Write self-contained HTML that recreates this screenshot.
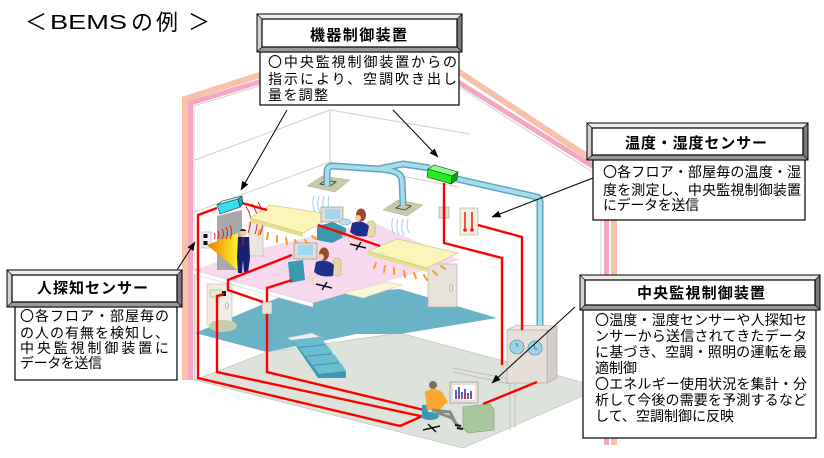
<!DOCTYPE html>
<html><head><meta charset="utf-8"><style>
html,body{margin:0;padding:0;background:#fff;}
svg{display:block;}
text{font-family:"Liberation Sans","Noto Sans CJK JP",sans-serif;fill:#000;}
.b{font-size:14px;}
.h{font-size:15px;font-weight:bold;}
</style></head><body>
<svg width="824" height="458" viewBox="0 0 824 458" xmlns="http://www.w3.org/2000/svg">
<defs>
<marker id="ah" markerWidth="9" markerHeight="7" refX="8.5" refY="3.5" orient="auto" markerUnits="userSpaceOnUse"><path d="M0,0 L9,3.5 L0,7 z" fill="#000"/></marker>
<linearGradient id="beam" x1="0" y1="0" x2="1" y2="0"><stop offset="0" stop-color="#f07800"/><stop offset="1" stop-color="#ffff30"/></linearGradient>
</defs>
<rect width="824" height="458" fill="#fff"/>

<!-- title -->
<text x="25" y="30" style="font-size:22px">＜</text>
<text transform="translate(50,29) scale(1.36,1)" x="0" y="0" style="font-size:20px">BEMS</text>
<text x="131" y="30" style="font-size:22px">の</text>
<text x="156" y="30" style="font-size:22px">例</text>
<text x="188" y="30" style="font-size:22px">＞</text>

<!-- back wall lines -->
<g stroke="#cfcfcf" stroke-width="1" fill="none">
<path d="M195,160 L330,110 L330,162 M330,110 L470,134 M195,212 L330,162 L458,187 M601,176 L601,300"/>
<path d="M195,268 L195,380"/>
</g>

<!-- roof / walls stripes -->
<polyline points="185,380 185,99 397,31 614,174 614,445" fill="none" stroke="#f8c2aa" stroke-width="6" stroke-linejoin="miter"/>
<polyline points="190.5,380 190.5,103 392.6,41 606.5,175 606.5,445" fill="none" stroke="#f3a7c3" stroke-width="5" stroke-linejoin="miter"/>
<polyline points="194,380 194,106 393,45 602,178" fill="none" stroke="#c8c8c8" stroke-width="0.8"/>

<!-- floors -->
<polygon points="195,380 267,352 400,333 585,383 585,395 463,448" fill="#dde3da" stroke="#c4c9c2" stroke-width="0.8"/>
<polygon points="195,333 280,297 400,289 497,318 400,334 357,334 267,352" fill="#6ab3c6"/>
<polygon points="193,270 255,250 372,222 460,260 313,303" fill="#f9d9ef"/>
<polygon points="193,270 313,303 313,307 193,274" fill="#fff" stroke="#cfcfcf" stroke-width="0.6"/>
<polygon points="343,293 387,282 402,285 363,298" fill="#fbf7d8" stroke="#d0d0b0" stroke-width="0.6"/>

<!-- partition lines bottom -->
<path d="M453,368 L515,380 L515,428 M453,372 L510,384 L510,430" stroke="#b8b8b8" stroke-width="0.8" fill="none"/>

<!-- stairs -->
<polygon points="287,338 312,333 322,338 297,343" fill="#eef2ee" stroke="#bbb" stroke-width="0.6"/>
<polygon points="292,340 320,337 346,372 346,378 318,378" fill="#3f98b2"/>
<g fill="#6cbcd0">
<polygon points="292,340 320,337 326,344 298,347"/>
<polygon points="299,348 327,345 333,353 305,356"/>
<polygon points="306,357 334,354 340,362 312,365"/>
<polygon points="313,366 341,363 346,371 319,374"/>
</g>

<!-- left room (2nd floor) -->
<polygon points="217,216 242,210 242,270 217,270" fill="#a9a9a9"/>
<rect x="249" y="222" width="14" height="34" fill="#ede6de" stroke="#b8b0a8" stroke-width="0.6"/>
<rect x="202" y="232" width="9" height="16" fill="#f4f4f4" stroke="#999" stroke-width="0.5"/>
<rect x="203.5" y="234" width="4" height="4" fill="#111"/><rect x="203.5" y="241" width="4" height="4" fill="#111"/>
<polygon points="207,245 238,233 240,272" fill="url(#beam)"/>
<g fill="none" stroke="#e02020" stroke-width="1">
<path d="M214,233 q2,3 0,6 M218,231 q2,4 0,8 M222,229 q3,5 0,10 M226,227 q3,6 0,12 M230,225 q3,7 0,14"/>
<path d="M246,207 q8,10 2,26 M252,204 q9,12 3,30 M258,202 q9,14 2,33"/>
</g>
<circle cx="243" cy="233" r="3.5" fill="#f0c8a0"/><path d="M239.5,231 q3.5,-4 7,0" fill="#222"/>
<polygon points="238,237 249,237 250,258 248,273 244,273 243,260 242,273 238,273 237,258" fill="#1a2070"/>
<path d="M243,237 L243,246" stroke="#c02020" stroke-width="1"/>

<!-- first floor left door & camera -->
<rect x="207" y="284" width="25" height="41" fill="#f0ece6" stroke="#c0b8b0" stroke-width="0.6"/>
<ellipse cx="227" cy="306" rx="1.5" ry="3" fill="none" stroke="#999" stroke-width="0.6"/>
<ellipse cx="223" cy="326" rx="14" ry="6" fill="#c8cca8"/>
<rect x="210" y="290" width="12" height="7" fill="#e4f0c8" stroke="#999" stroke-width="0.5"/>
<rect x="222" y="291" width="4" height="5" fill="#111"/>

<!-- door under light 2 -->
<rect x="428" y="264" width="29" height="43" fill="#e8e2dc" stroke="#b0a8a0" stroke-width="0.6"/>
<ellipse cx="451" cy="288" rx="1.5" ry="3.5" fill="none" stroke="#999" stroke-width="0.6"/>

<!-- diffusers -->
<polygon points="307,186 322,176 350,180 335,192" fill="#c6cba9" stroke="#a8ad90" stroke-width="0.5"/>
<polygon points="320,184 326,180 336,182 330,186" fill="none" stroke="#333" stroke-width="0.8"/>
<polygon points="383,210 398,200 423,205 407,216" fill="#c6cba9" stroke="#a8ad90" stroke-width="0.5"/>
<polygon points="396,208 402,204 411,206 405,210" fill="none" stroke="#333" stroke-width="0.8"/>
<g fill="none" stroke="#9fd0e8" stroke-width="1">
<path d="M314,196 q-3,8 1,16 M319,196 q-3,8 1,17 M324,196 q-3,8 1,17 M329,196 q-2,8 1,15"/>
<path d="M393,218 q-3,8 1,16 M398,219 q-3,8 1,16 M403,219 q-3,8 1,16 M408,219 q-2,8 1,14"/>
</g>

<!-- duct -->
<g fill="none" stroke-linejoin="round" stroke-linecap="butt">
<path d="M327,186 L327,172 Q327,166 333,166 L378,169 M378,169 L403,164 L430,168 M457,179 L537,197 Q540,198 540,203 L540,326 M378,169 Q401,170 402,180 L403,205" stroke="#5aa8c0" stroke-width="7"/>
<path d="M327,186 L327,172 Q327,166 333,166 L378,169 M378,169 L403,164 L430,168 M457,179 L537,197 Q540,198 540,203 L540,326 M378,169 Q401,170 402,180 L403,205" stroke="#a8dcec" stroke-width="4"/>
</g>

<!-- lights -->
<polygon points="250,218 303,233 303,237 250,222" fill="#e6de8c"/>
<polygon points="250,218 270,205 335,215 303,233" fill="#fbf6b8" stroke="#c8c080" stroke-width="0.6"/>
<polygon points="368,251 427,268 427,272 368,255" fill="#e6de8c"/>
<polygon points="368,251 397,239 458,253 427,268" fill="#fbf6b8" stroke="#c8c080" stroke-width="0.6"/>
<g stroke="#f5a020" stroke-width="2" stroke-linecap="round">
<path d="M260,230 l-2,5 M268,233 l-1,6 M277,236 l0,6 M286,238 l1,6 M295,240 l2,5 M305,240 l3,4 M312,236 l4,3"/>
<path d="M376,263 l-2,5 M385,266 l-1,6 M394,268 l0,6 M404,271 l1,6 M414,273 l2,5 M424,275 l3,5 M433,271 l4,4 M441,266 l4,3"/>
</g>

<!-- women / desks -->
<polygon points="317,226 333,222 346,228 346,236 332,243 317,240" fill="#3a9ab2"/>
<rect x="321" y="207" width="22" height="15" fill="#e0dcd0" stroke="#888" stroke-width="0.6"/>
<rect x="325" y="209" width="15" height="10" fill="#9fd7f0"/>
<ellipse cx="345" cy="222" rx="6" ry="3" fill="#bde0ee" stroke="#5a9ab0" stroke-width="0.5"/>
<rect x="367" y="221" width="8" height="16" rx="3" fill="#e8d8a8" stroke="#b0a070" stroke-width="0.5"/>
<ellipse cx="361" cy="215" rx="5" ry="6.5" fill="#9a4a2a"/>
<circle cx="358" cy="218" r="3" fill="#f3d0b0"/>
<path d="M352,223 Q362,219 369,226 L367,236 Q356,238 350,232 Z" fill="#1f2f8e"/>
<path d="M350,233 L343,236 L345,241 M354,235 L348,239 L350,243" stroke="#f3d0b0" stroke-width="1.5" fill="none"/>
<path d="M350,244 L366,248 M356,250 L361,242" stroke="#111" stroke-width="1.5"/>

<polygon points="288,262 303,260 305,280 290,283" fill="#3a9ab2"/>
<rect x="294" y="243" width="23" height="16" fill="#e0dcd0" stroke="#888" stroke-width="0.6"/>
<rect x="298" y="245" width="15" height="10" fill="#9fd7f0"/>
<rect x="333" y="258" width="8" height="18" rx="3" fill="#e8d8a8" stroke="#b0a070" stroke-width="0.5"/>
<ellipse cx="324" cy="254" rx="5" ry="6.5" fill="#9a4a2a"/>
<circle cx="321" cy="257" r="3" fill="#f3d0b0"/>
<path d="M316,262 Q326,258 334,265 L333,276 Q321,278 314,272 Z" fill="#1f2f8e"/>
<path d="M314,273 L308,277 L310,283 M318,275 L312,279 L314,285" stroke="#f3d0b0" stroke-width="1.5" fill="none"/>
<path d="M316,284 L332,288 M322,290 L327,282" stroke="#111" stroke-width="1.5"/>

<!-- small boxes -->
<rect x="262" y="302" width="10" height="12" fill="#e8e2dc" stroke="#999" stroke-width="0.6"/>
<rect x="439" y="207" width="10" height="11" fill="#e8e2dc" stroke="#999" stroke-width="0.6"/>

<!-- thermometer panel -->
<rect x="460" y="208" width="18" height="27" fill="#f6efe0" stroke="#aaa" stroke-width="0.6"/>
<path d="M465,212 L465,229 M472,212 L472,229" stroke="#e02020" stroke-width="1.5"/>
<circle cx="465" cy="230" r="1.8" fill="#e02020"/><circle cx="472" cy="230" r="1.8" fill="#e02020"/>

<!-- cabinet -->
<polygon points="507,330 517,325 557,326 547,331" fill="#ece6e0" stroke="#a8a09a" stroke-width="0.6"/>
<polygon points="547,331 557,326 557,378 547,383" fill="#d4ccc6" stroke="#a8a09a" stroke-width="0.6"/>
<rect x="507" y="330" width="40" height="53" fill="#e6dfd9" stroke="#a8a09a" stroke-width="0.6"/>
<circle cx="517" cy="347" r="7" fill="#9dd5e8" stroke="#5a9ab0" stroke-width="0.8"/>
<circle cx="535" cy="348" r="7" fill="#9dd5e8" stroke="#5a9ab0" stroke-width="0.8"/>
<path d="M516,343 l2,4 M534,344 l1,5 l3,0" stroke="#333" stroke-width="0.6" fill="none"/>

<!-- red network -->
<g fill="none" stroke="#ff0000" stroke-width="2.4" stroke-linejoin="miter">
<path d="M217,208 L198,215 L198,378 L400,426 L427,414"/>
<path d="M242,203 L267,210"/>
<path d="M224,294 L217,296 L217,372 L425,417"/>
<path d="M267,314 L267,372 L428,411"/>
<path d="M292,255 L228,280 L228,290 L263,302"/>
<path d="M292,280 L267,288 L267,302"/>
<path d="M318,225 L380,246"/>
<path d="M444,183 L444,243 L502,258 L502,365"/>
<path d="M478,225 L522,237 L522,330"/>
<path d="M537,382 L483,404"/>
</g>

<!-- AC units -->
<polygon points="217,205 222,201 242,196 238,199" fill="#a8f4fa" stroke="#333" stroke-width="0.6"/>
<polygon points="217,205 238,199 240,207 220,214" fill="#33dff0" stroke="#333" stroke-width="0.6"/>
<polygon points="238,199 242,196 243,204 240,207" fill="#1aa8c0" stroke="#333" stroke-width="0.6"/>
<polygon points="428,169 434,165 458,172 452,176" fill="#80ff80" stroke="#333" stroke-width="0.6"/>
<polygon points="428,169 452,176 451,184 427,177" fill="#22ee22" stroke="#333" stroke-width="0.6"/>
<polygon points="452,176 458,172 457,180 451,184" fill="#10a010" stroke="#333" stroke-width="0.6"/>

<!-- bottom man at console -->
<polygon points="463,407 490,404 494,410 494,430 468,433 463,428" fill="#a8c8a0" stroke="#7a9a72" stroke-width="0.6"/>
<rect x="450" y="382" width="28" height="21" fill="#e8e0d8" stroke="#888" stroke-width="0.6"/>
<rect x="453" y="385" width="22" height="15" fill="#fff"/>
<path d="M456,399 L456,390 M459,399 L459,387 M462,399 L462,392 M465,399 L465,389 M468,399 L468,393 M471,399 L471,391" stroke="#2040c0" stroke-width="1.6"/>
<path d="M459,399 L459,393 M465,399 L465,394 M471,399 L471,395" stroke="#e02020" stroke-width="1.6"/>
<ellipse cx="430" cy="416" rx="9" ry="4" fill="#3a9ab2"/>
<rect x="422" y="405" width="6" height="12" fill="#3a9ab2"/>
<path d="M423,430 L440,426 M428,424 L436,432" stroke="#111" stroke-width="1.5"/>
<circle cx="433" cy="385" r="4" fill="#8a6a50"/>
<path d="M425,392 Q433,386 442,392 L448,402 L444,405 L440,410 L427,410 Z" fill="#f8a830"/>
<path d="M432,410 L450,412 L456,424 M436,412 L452,418 L458,426" stroke="#888" stroke-width="3" fill="none"/>
<path d="M455,425 l6,1 M457,428 l6,1" stroke="#111" stroke-width="2"/>

<!-- ===== callouts ===== -->
<!-- top -->
<rect x="260" y="52" width="199" height="53" fill="#fff" stroke="#000" stroke-width="1.2"/>
<rect x="257" y="14" width="205" height="38" fill="#c0c0c0"/>
<polygon points="257,14 462,14 457,19 262,19" fill="#ececec"/>
<polygon points="257,14 262,19 262,47 257,52" fill="#d2d2d2"/>
<polygon points="462,14 462,52 457,47 457,19" fill="#7a7a7a"/>
<polygon points="257,52 262,47 457,47 462,52" fill="#9a9a9a"/>
<rect x="262" y="19" width="195" height="28" fill="#fff" stroke="#000" stroke-width="1.2"/>
<rect x="257" y="14" width="205" height="38" fill="none" stroke="#000" stroke-width="1"/>
<path d="M257,14 L262,19 M462,14 L457,19 M257,52 L262,47 M462,52 L457,47" stroke="#000" stroke-width="0.6"/>
<text class="h" x="310" y="40" textLength="97" lengthAdjust="spacing">機器制御装置</text>
<text class="b" x="268" y="67" textLength="189" lengthAdjust="spacing">〇中央監視制御装置からの</text>
<text class="b" x="268" y="84" textLength="189" lengthAdjust="spacing">指示により、空調吹き出し</text>
<text class="b" x="268" y="100" textLength="60" lengthAdjust="spacing">量を調整</text>

<!-- right -->
<rect x="593" y="160" width="212" height="60" fill="#fff" stroke="#000" stroke-width="1.2"/>
<rect x="587" y="123" width="221" height="37" fill="#c0c0c0"/>
<polygon points="587,123 808,123 803,128 592,128" fill="#ececec"/>
<polygon points="587,123 592,128 592,155 587,160" fill="#d2d2d2"/>
<polygon points="808,123 808,160 803,155 803,128" fill="#7a7a7a"/>
<polygon points="587,160 592,155 803,155 808,160" fill="#9a9a9a"/>
<rect x="592" y="128" width="211" height="27" fill="#fff" stroke="#000" stroke-width="1.2"/>
<rect x="587" y="123" width="221" height="37" fill="none" stroke="#000" stroke-width="1"/>
<path d="M587,123 L592,128 M808,123 L803,128 M587,160 L592,155 M808,160 L803,155" stroke="#000" stroke-width="0.6"/>
<text class="h" x="625" y="148" textLength="142" lengthAdjust="spacing">温度・湿度センサー</text>
<text class="b" x="603" y="177" textLength="198" lengthAdjust="spacing">〇各フロア・部屋毎の温度・湿</text>
<text class="b" x="603" y="195" textLength="198" lengthAdjust="spacing">度を測定し、中央監視制御装置</text>
<text class="b" x="603" y="210" textLength="96" lengthAdjust="spacing">にデータを送信</text>

<!-- left -->
<rect x="15" y="307" width="162" height="73" fill="#fff" stroke="#000" stroke-width="1.2"/>
<rect x="7" y="270" width="175" height="37" fill="#c0c0c0"/>
<polygon points="7,270 182,270 177,275 12,275" fill="#ececec"/>
<polygon points="7,270 12,275 12,302 7,307" fill="#d2d2d2"/>
<polygon points="182,270 182,307 177,302 177,275" fill="#7a7a7a"/>
<polygon points="7,307 12,302 177,302 182,307" fill="#9a9a9a"/>
<rect x="12" y="275" width="165" height="27" fill="#fff" stroke="#000" stroke-width="1.2"/>
<rect x="7" y="270" width="175" height="37" fill="none" stroke="#000" stroke-width="1"/>
<path d="M7,270 L12,275 M182,270 L177,275 M7,307 L12,302 M182,307 L177,302" stroke="#000" stroke-width="0.6"/>
<text class="h" x="37" y="293" textLength="111" lengthAdjust="spacing">人探知センサー</text>
<text class="b" x="20" y="321" textLength="149" lengthAdjust="spacing">〇各フロア・部屋毎の</text>
<text class="b" x="20" y="338" textLength="149" lengthAdjust="spacing">の人の有無を検知し、</text>
<text class="b" x="20" y="353" textLength="149" lengthAdjust="spacing">中央監視制御装置に</text>
<text class="b" x="20" y="368" textLength="82" lengthAdjust="spacing">データを送信</text>

<!-- bottom right -->
<rect x="583" y="310" width="233" height="128" fill="#fff" stroke="#000" stroke-width="1.2"/>
<rect x="580" y="275" width="240" height="35" fill="#c0c0c0"/>
<polygon points="580,275 820,275 815,280 585,280" fill="#ececec"/>
<polygon points="580,275 585,280 585,305 580,310" fill="#d2d2d2"/>
<polygon points="820,275 820,310 815,305 815,280" fill="#7a7a7a"/>
<polygon points="580,310 585,305 815,305 820,310" fill="#9a9a9a"/>
<rect x="585" y="280" width="230" height="25" fill="#fff" stroke="#000" stroke-width="1.2"/>
<rect x="580" y="275" width="240" height="35" fill="none" stroke="#000" stroke-width="1"/>
<path d="M580,275 L585,280 M820,275 L815,280 M580,310 L585,305 M820,310 L815,305" stroke="#000" stroke-width="0.6"/>
<text class="h" x="637" y="298" textLength="128" lengthAdjust="spacing">中央監視制御装置</text>
<text class="b" x="595" y="325" textLength="212" lengthAdjust="spacing">〇温度・湿度センサーや人探知セ</text>
<text class="b" x="595" y="341" textLength="212" lengthAdjust="spacing">ンサーから送信されてきたデータ</text>
<text class="b" x="595" y="357" textLength="212" lengthAdjust="spacing">に基づき、空調・照明の運転を最</text>
<text class="b" x="595" y="373" textLength="42" lengthAdjust="spacing">適制御</text>
<text class="b" x="595" y="389" textLength="212" lengthAdjust="spacing">〇エネルギー使用状況を集計・分</text>
<text class="b" x="595" y="405" textLength="212" lengthAdjust="spacing">析して今後の需要を予測するなど</text>
<text class="b" x="595" y="421" textLength="139" lengthAdjust="spacing">して、空調制御に反映</text>

<!-- arrows -->
<g stroke="#000" stroke-width="1" fill="none" marker-end="url(#ah)">
<line x1="287" y1="110" x2="241" y2="190"/>
<line x1="393" y1="110" x2="438" y2="157"/>
<line x1="593" y1="178" x2="492" y2="217"/>
<line x1="177" y1="270" x2="195" y2="242"/>
<line x1="575" y1="307" x2="492" y2="383"/>
</g>
</svg>
</body></html>
